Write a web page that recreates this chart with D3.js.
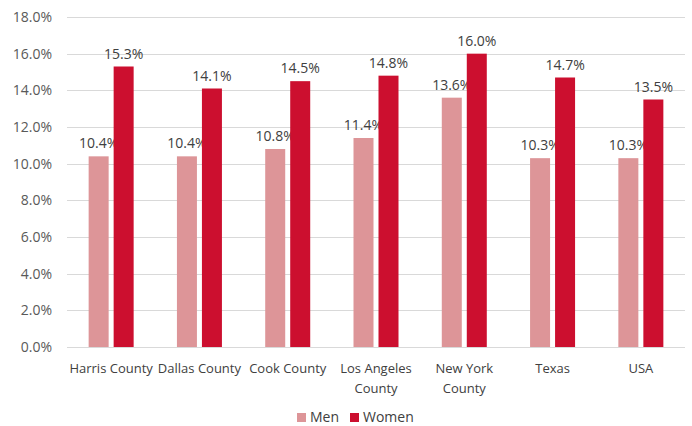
<!DOCTYPE html>
<html>
<head>
<meta charset="utf-8">
<script src="https://cdn.jsdelivr.net/npm/d3@7"></script>
<style>
  html, body { margin: 0; padding: 0; background: #fff; }
  svg { display: block; font-family: "Open Sans", "Noto Sans", sans-serif; }
</style>
</head>
<body>
<svg id="chart" width="692" height="426"></svg>
<script>
// Rates by area, split by sex
const categories = [["Harris County"], ["Dallas County"], ["Cook County"], ["Los Angeles", "County"], ["New York", "County"], ["Texas"], ["USA"]];
const seriesNames = ["Men", "Women"];
const menValues = [10.4, 10.4, 10.8, 11.4, 13.6, 10.3, 10.3];
const womenValues = [15.3, 14.1, 14.5, 14.8, 16.0, 14.7, 13.5];
const yTicks = [0, 2, 4, 6, 8, 10, 12, 14, 16, 18];
const colors = ["#dd9598", "#cc0f2f"];

const svg = d3.select("#chart");
const margin = { left: 67, right: 7, top: 17, bottom: 79 };
const width = 692, height = 426;

const x0 = d3.scaleBand()
  .domain(d3.range(categories.length))
  .range([margin.left, width - margin.right])
  .padding(0);

const barW = 20, gap = 5;
const x1 = d3.scaleOrdinal().domain([0, 1]).range([-(gap / 2 + barW), gap / 2]);

const y = d3.scaleLinear().domain([0, 18]).range([height - margin.bottom, margin.top]);

// horizontal gridlines
svg.append("g")
  .selectAll("line")
  .data(yTicks)
  .join("line")
  .attr("x1", margin.left)
  .attr("x2", width - margin.right)
  .attr("y1", d => Math.round(y(d)) + 0.5)
  .attr("y2", d => Math.round(y(d)) + 0.5)
  .attr("stroke", "#d9d9d9")
  .attr("stroke-width", 1);

// y axis labels
const yAxis = d3.axisLeft(y).tickValues(yTicks).tickFormat(d => d.toFixed(1) + "%").tickSize(0).tickPadding(15);
const gy = svg.append("g").attr("transform", `translate(${margin.left},0)`).call(yAxis);
gy.select(".domain").remove();
gy.selectAll("text").attr("fill", "#595959").style("font-size", "14px").style("font-family", "\"Open Sans\", sans-serif");

const series = [menValues, womenValues];

series.forEach((vals, si) => {
  const g = svg.append("g");
  g.selectAll("rect")
    .data(vals)
    .join("rect")
    .attr("x", (d, i) => x0(i) + x0.bandwidth() / 2 + x1(si))
    .attr("y", d => y(d))
    .attr("width", barW)
    .attr("height", d => y(0) - y(d))
    .attr("fill", colors[si]);
  g.selectAll("text")
    .data(vals)
    .join("text")
    .attr("x", (d, i) => x0(i) + x0.bandwidth() / 2 + x1(si) + barW / 2)
    .attr("y", d => y(d) - 8)
    .attr("text-anchor", "middle")
    .attr("fill", "#404040")
    .style("font-size", "14px")
    .text(d => d.toFixed(1) + "%");
});

// category labels
const gx = svg.append("g");
categories.forEach((lines, i) => {
  const cx = x0(i) + x0.bandwidth() / 2;
  const t = gx.append("text")
    .attr("x", cx)
    .attr("y", 373)
    .attr("text-anchor", "middle")
    .attr("fill", "#404040")
    .style("font-size", "13px");
  lines.forEach((ln, k) => {
    t.append("tspan").attr("x", cx).attr("dy", k === 0 ? 0 : 20).text(ln);
  });
});

// legend
const legend = svg.append("g").attr("transform", "translate(297,422)");
const legendX = [0, 53];
seriesNames.forEach((name, i) => {
  const lg = legend.append("g").attr("transform", `translate(${legendX[i]},0)`);
  lg.append("rect").attr("x", 0).attr("y", -9).attr("width", 9).attr("height", 9).attr("fill", colors[i]);
  lg.append("text").attr("x", 13).attr("y", 0).attr("fill", "#404040").style("font-size", "14px").text(name);
});
</script>
</body>
</html>
